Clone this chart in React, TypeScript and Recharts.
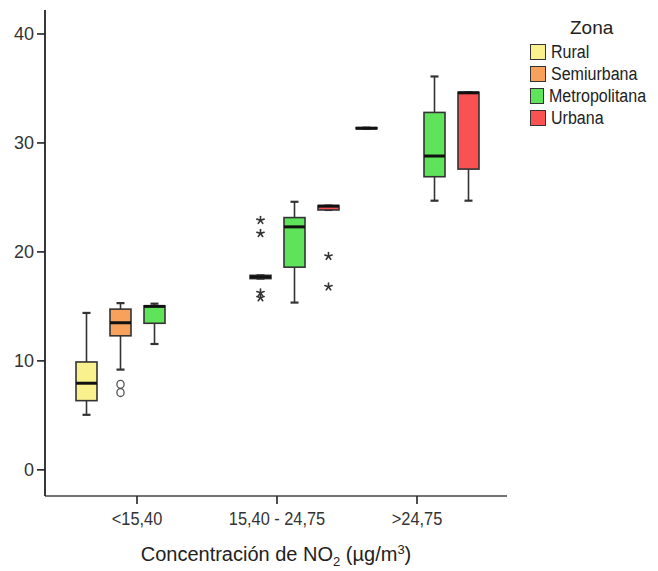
import React from "react";
import { ComposedChart, Bar, XAxis, YAxis, Legend } from "recharts";

const FONT = "'Liberation Sans Narrow', 'Arial Narrow', 'Liberation Sans', Arial, sans-serif";

const categories = ["<15,40", "15,40 - 24,75", ">24,75"];
const zones = ["Rural", "Semiurbana", "Metropolitana", "Urbana"];
const zoneColors = ["#f9f18d", "#f8a15c", "#5ee35a", "#f85252"];

// [mín, Q1, mediana, Q3, máx] por categoría; null = sin datos
const rural = [[5.05, 6.35, 7.95, 9.9, 14.4], null, [31.3, 31.3, 31.35, 31.4, 31.4]];
const semiurbana = [[9.2, 12.3, 13.5, 14.75, 15.3], [17.55, 17.55, 17.7, 17.85, 17.85], null];
const metropolitana = [
  [11.55, 13.45, 15.0, 15.05, 15.25],
  [15.35, 18.6, 22.3, 23.15, 24.6],
  [24.7, 26.9, 28.8, 32.8, 36.1],
];
const urbana = [null, [23.85, 23.85, 24.2, 24.25, 24.25], [24.7, 27.6, 34.6, 34.65, 34.65]];

// atípicos (o) y extremos (*)
const semiurbanaAtipicos = [[7.85, 7.1], [], []];
const semiurbanaExtremos = [[], [22.9, 21.7, 16.25, 15.8], []];
const urbanaExtremos = [[], [19.6, 16.8], []];

const yTicks = [0, 10, 20, 30, 40];

const stats = [rural, semiurbana, metropolitana, urbana];
const none = [[], [], []];
const atipicos = [none, semiurbanaAtipicos, none, none];
const extremos = [none, semiurbanaExtremos, none, urbanaExtremos];

type Mark = { v: number; kind: "o" | "*" };
const marks: Mark[][][] = zones.map((_, z) =>
  categories.map((_, i) => [
    ...atipicos[z][i].map((v) => ({ v, kind: "o" as const })),
    ...extremos[z][i].map((v) => ({ v, kind: "*" as const })),
  ])
);
const maxMarks = Math.max(...marks.flat().map((m) => m.length));

const rows = categories.map((cat, i) => ({ cat, i }));

const BAR = { barSize: 21, isAnimationActive: false, legendType: "none" as const };
const layerAxis = (id: string) => (
  <XAxis key={id} xAxisId={id} dataKey="cat" hide padding={{ left: 22, right: 20 }} />
);

function Whisker(p: any) {
  if (!stats[p.z][p.payload.i]) return <g />;
  const cx = p.x + p.width / 2;
  const y0 = p.y;
  const y1 = p.y + p.height;
  return (
    <g stroke="#333" strokeWidth={1.6}>
      <line x1={cx} x2={cx} y1={y0} y2={y1} />
      <line x1={cx - 4} x2={cx + 4} y1={y0} y2={y0} strokeWidth={2.2} />
      <line x1={cx - 4} x2={cx + 4} y1={y1} y2={y1} strokeWidth={2.2} />
    </g>
  );
}

function Box(p: any) {
  if (!stats[p.z][p.payload.i]) return <g />;
  return (
    <rect x={p.x} y={p.y} width={p.width} height={p.height}
      fill={zoneColors[p.z]} stroke="#333" strokeWidth={1.6} />
  );
}

function Median(p: any) {
  if (!stats[p.z][p.payload.i]) return <g />;
  return <line x1={p.x} x2={p.x + p.width} y1={p.y} y2={p.y} stroke="#111" strokeWidth={3} />;
}

function Outlier(p: any) {
  const m = marks[p.z][p.payload.i][p.k];
  if (!m) return <g />;
  const cx = p.x + p.width / 2;
  const cy = p.y;
  if (m.kind === "o") {
    return <ellipse cx={cx} cy={cy} rx={3.6} ry={4} fill="none" stroke="#555" strokeWidth={1.3} />;
  }
  const r = 3.8;
  const spokes = [0, 1, 2, 3, 4].map((j) => {
    const a = -Math.PI / 2 + (j * 2 * Math.PI) / 5;
    return <line key={j} x1={cx} y1={cy} x2={cx + r * Math.cos(a)} y2={cy + r * Math.sin(a)} />;
  });
  return <g stroke="#333" strokeWidth={1.6} strokeLinecap="round">{spokes}</g>;
}

// etiquetas del eje X algo estrechas
function CatTick({ x, y, payload }: any) {
  return (
    <g transform={`translate(${x},${y}) scale(0.91,1)`}>
      <text textAnchor="middle" dy="0.71em" fontSize={18} fill="#333" fontFamily={FONT}>
        {payload.value}
      </text>
    </g>
  );
}

function AxisTitle({ viewBox }: any) {
  const cx = viewBox.x + viewBox.width / 2;
  return (
    <text x={cx} y={viewBox.y + 65} textAnchor="middle" fontSize={20} fill="#222" fontFamily={FONT}>
      Concentración de NO<tspan dy={5} fontSize={13}>2</tspan>
      <tspan dy={-5}> (µg/m</tspan>
      <tspan dy={-7} fontSize={13}>3</tspan>
      <tspan dy={7}>)</tspan>
    </text>
  );
}

function ZoneLegend() {
  return (
    <div style={{ fontFamily: FONT, color: "#222" }}>
      <div style={{ fontSize: 19, marginLeft: 40, marginTop: 3, marginBottom: 2 }}>Zona</div>
      {zones.map((z, i) => (
        <div key={z} style={{ display: "flex", alignItems: "center", height: 22 }}>
          <span style={{ width: 14, height: 14, background: zoneColors[i], border: "1.5px solid #333", marginRight: 5 }} />
          <span style={{ fontSize: 18, display: "inline-block", transform: "scaleX(0.89)", transformOrigin: "left center" }}>
            {z}
          </span>
        </div>
      ))}
    </div>
  );
}

export default function App() {
  return (
    <div style={{ position: "absolute", left: 0, top: 0, background: "#fff" }}>
      <ComposedChart width={658} height={571} data={rows} barGap={13}
        margin={{ top: 10, right: 151, bottom: 0, left: 0 }}>
        <XAxis xAxisId="box" dataKey="cat" padding={{ left: 22, right: 20 }} height={75}
          axisLine={{ stroke: "#444", strokeWidth: 1.6 }} tickLine={{ stroke: "#222", strokeWidth: 1.6 }}
          tickSize={8} tickMargin={8} tick={<CatTick />}
          label={{ content: <AxisTitle /> }} />
        <XAxis xAxisId="top" orientation="top" dataKey="cat" height={0} tick={false} tickLine={false}
          axisLine={{ stroke: "#555", strokeWidth: 1.6 }} />
        {layerAxis("whisker")}
        {layerAxis("median")}
        {Array.from({ length: maxMarks }, (_, k) => layerAxis(`out${k}`))}
        <YAxis type="number" domain={[-2.4, 42.2]} ticks={yTicks} allowDataOverflow width={45}
          axisLine={{ stroke: "#222", strokeWidth: 1.8 }} tickLine={{ stroke: "#222", strokeWidth: 1.6 }}
          tickSize={8} tickMargin={3} tick={{ fontSize: 18, fill: "#333", fontFamily: FONT }} />
        <YAxis yAxisId="right" orientation="right" type="number" domain={[0, 1]} width={0}
          tick={false} tickLine={false} axisLine={{ stroke: "#333", strokeWidth: 1.6 }} />

        {zones.map((z, zi) => (
          <Bar key={`w-${z}`} xAxisId="whisker" {...BAR}
            dataKey={(r: any) => { const s = stats[zi][r.i]; return s ? [s[0], s[4]] : null; }}
            shape={(p: any) => <Whisker {...p} z={zi} />} />
        ))}
        {zones.map((z, zi) => (
          <Bar key={`b-${z}`} xAxisId="box" {...BAR}
            dataKey={(r: any) => { const s = stats[zi][r.i]; return s ? [s[1], s[3]] : null; }}
            shape={(p: any) => <Box {...p} z={zi} />} />
        ))}
        {zones.map((z, zi) => (
          <Bar key={`m-${z}`} xAxisId="median" {...BAR}
            dataKey={(r: any) => { const s = stats[zi][r.i]; return s ? [s[2], s[2]] : null; }}
            shape={(p: any) => <Median {...p} z={zi} />} />
        ))}
        {Array.from({ length: maxMarks }, (_, k) =>
          zones.map((z, zi) => (
            <Bar key={`o${k}-${z}`} xAxisId={`out${k}`} {...BAR}
              dataKey={(r: any) => { const m = marks[zi][r.i][k]; return m ? [m.v, m.v] : null; }}
              shape={(p: any) => <Outlier {...p} z={zi} k={k} />} />
          ))
        )}
        <Legend layout="vertical" align="center" verticalAlign="middle" content={<ZoneLegend />}
          wrapperStyle={{ left: 530, top: 14, width: 128 }} />
      </ComposedChart>
    </div>
  );
}
